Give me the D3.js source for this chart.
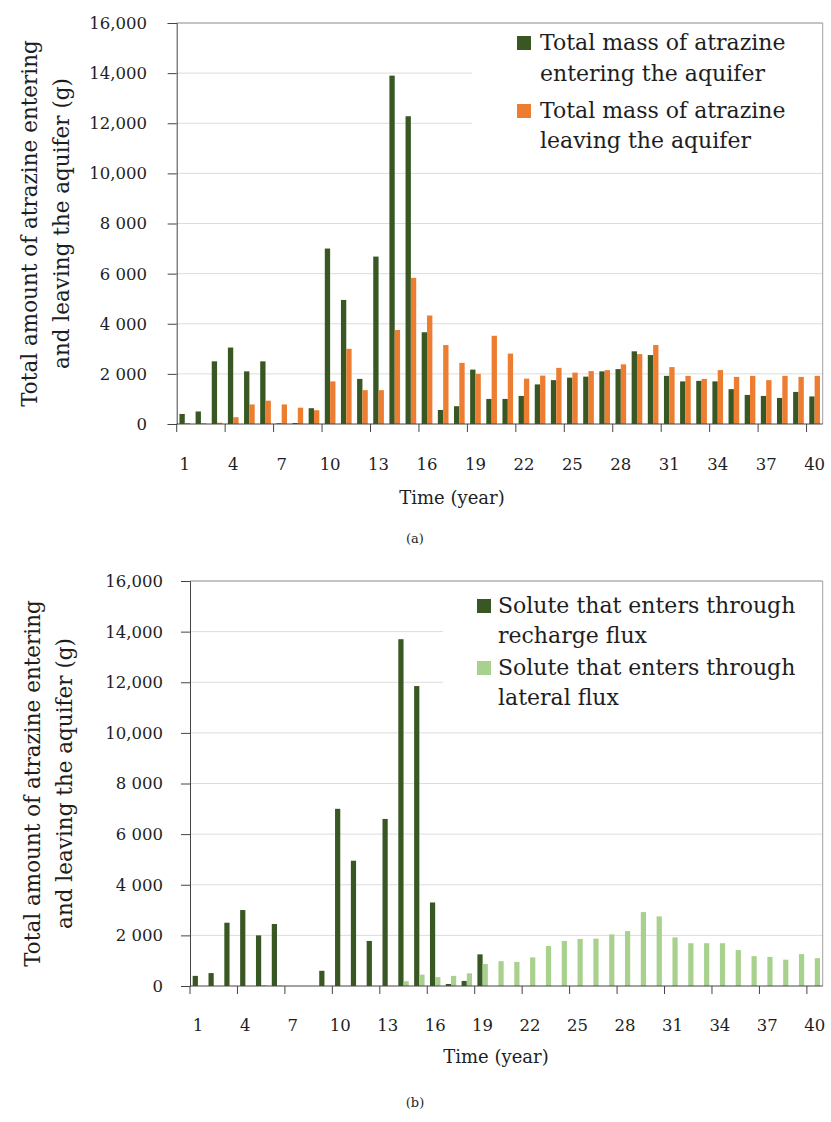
<!DOCTYPE html>
<html>
<head>
<meta charset="utf-8">
<script src="https://cdn.jsdelivr.net/npm/d3@7"></script>
<style>
  html, body { margin: 0; padding: 0; background: #fff; }
  svg { display: block; }
  text { font-family: "DejaVu Serif", "Liberation Serif", serif; fill: #1e1e1e; }
</style>
</head>
<body>
<svg id="chart" width="831" height="1122"></svg>
<script>
// ---------- DATA ----------
const years = [1,2,3,4,5,6,7,8,9,10,11,12,13,14,15,16,17,18,19,20,21,22,23,24,25,26,27,28,29,30,31,32,33,34,35,36,37,38,39,40];
const xTickYears = [1,4,7,10,13,16,19,22,25,28,31,34,37,40];
const yTickValues = [0,2000,4000,6000,8000,10000,12000,14000,16000];
const yTickLabels = ["0","2 000","4 000","6 000","8 000","10,000","12,000","14,000","16,000"];

// Panel (a)
const enteringA = [400,500,2500,3050,2100,2500,30,40,630,7000,4950,1800,6680,13900,12280,3660,560,710,2170,1000,1000,1120,1580,1750,1850,1890,2100,2190,2900,2750,1920,1700,1720,1700,1390,1160,1120,1040,1280,1100];
const leavingA  = [40,30,50,270,780,930,780,650,550,1700,3000,1350,1350,3750,5830,4330,3150,2440,2000,3520,2810,1810,1930,2240,2050,2110,2150,2380,2790,3150,2270,1920,1800,2150,1880,1920,1750,1920,1880,1920];

// Panel (b)
const rechargeB = [400,510,2500,3000,2000,2450,0,0,600,7000,4950,1780,6600,13700,11850,3300,80,200,1250,0,0,0,0,0,0,0,0,0,0,0,0,0,0,0,0,0,0,0,0,0];
const lateralB  = [0,0,0,0,40,20,0,0,0,0,0,0,0,190,450,350,400,500,870,980,950,1130,1580,1780,1860,1870,2040,2170,2920,2750,1920,1690,1690,1690,1420,1180,1150,1040,1260,1100];

const yTitle1 = "Total amount of atrazine entering";
const yTitle2 = "and leaving the aquifer (g)";
const xTitle = "Time (year)";

const panels = [
  {
    series: [
      {name: "Total mass of atrazine|entering the aquifer", values: enteringA, color: "#385723"},
      {name: "Total mass of atrazine|leaving the aquifer", values: leavingA, color: "#ED7D31"}
    ],
    left: 176.7, right: 822.7, top: 23, bottom: 424,
    yLabelX: 147, yTitleX: [37, 69],
    xLabelY: 470, xTitleX: 452, xTitleY: 504, capY: 543, cap: "(a)",
    legend: {x0: 472, y1: 166, sqX: 517, textX: 540, baselines: [50, 81, 118, 148]}
  },
  {
    series: [
      {name: "Solute that enters through|recharge flux", values: rechargeB, color: "#385723"},
      {name: "Solute that enters through|lateral flux", values: lateralB, color: "#A9D18E"}
    ],
    left: 190, right: 822.7, top: 581, bottom: 986,
    yLabelX: 163, yTitleX: [40, 72],
    xLabelY: 1031, xTitleX: 496, xTitleY: 1063, capY: 1107, cap: "(b)",
    legend: {x0: 443, y1: 724, sqX: 477, textX: 498, baselines: [613, 643, 675, 705]}
  }
];

const svg = d3.select("#chart");
svg.append("rect").attr("width", 831).attr("height", 1122).attr("fill", "#fff");

panels.forEach(p => {
  const g = svg.append("g");
  const x0 = d3.scaleBand().domain(years).range([p.left, p.right]).padding(0);
  const bw = x0.bandwidth();
  const x1 = d3.scaleBand().domain(d3.range(p.series.length)).range([bw * 0.17, bw * 0.83]).padding(0);
  const y = d3.scaleLinear().domain([0, 16000]).range([p.bottom, p.top]);

  // gridlines
  g.append("g").selectAll("line").data(yTickValues.filter(v => v > 0 && v < 16000)).join("line")
    .attr("x1", p.left).attr("x2", p.right)
    .attr("y1", d => y(d)).attr("y2", d => y(d))
    .attr("stroke", "#dcdcdc").attr("stroke-width", 1);

  // plot border (top & right)
  g.append("line").attr("x1", p.left).attr("x2", p.right).attr("y1", y(16000)).attr("y2", y(16000))
    .attr("stroke", "#8a8a8a").attr("stroke-width", 1);
  g.append("line").attr("x1", p.right).attr("x2", p.right).attr("y1", y(16000)).attr("y2", y(0))
    .attr("stroke", "#a0a0a0").attr("stroke-width", 1);

  // legend background (covers gridlines)
  g.append("rect").attr("x", p.legend.x0).attr("y", p.top + 1)
    .attr("width", p.right - p.legend.x0 - 1).attr("height", p.legend.y1 - p.top - 1)
    .attr("fill", "#fff");

  // bars
  p.series.forEach((s, si) => {
    g.append("g").selectAll("rect").data(years).join("rect")
      .attr("x", (d) => x0(d) + x1(si))
      .attr("width", x1.bandwidth())
      .attr("y", (d, i) => y(s.values[i]))
      .attr("height", (d, i) => y(0) - y(s.values[i]))
      .attr("fill", s.color);
  });

  // y axis
  const yAxis = d3.axisLeft(y).tickValues(yTickValues).tickSize(9).tickFormat(() => "");
  const ya = g.append("g").attr("transform", `translate(${p.left},0)`).call(yAxis);
  ya.select(".domain").attr("stroke", "#444");
  ya.selectAll(".tick line").attr("stroke", "#444");

  g.append("g").selectAll("text").data(yTickValues).join("text")
    .attr("x", p.yLabelX).attr("y", d => y(d)).attr("dy", "0.36em")
    .attr("text-anchor", "end").attr("font-size", 16.5)
    .text((d, i) => yTickLabels[i]);

  // x axis
  g.append("line").attr("x1", p.left).attr("x2", p.right).attr("y1", y(0)).attr("y2", y(0))
    .attr("stroke", "#444");
  const boundaries = d3.range(0, 40, 3);
  g.append("g").selectAll("line").data(boundaries).join("line")
    .attr("x1", d => x0(years[d])).attr("x2", d => x0(years[d]))
    .attr("y1", y(0)).attr("y2", y(0) + 8)
    .attr("stroke", "#444");

  g.append("g").selectAll("text").data(xTickYears).join("text")
    .attr("x", d => x0(d) + bw / 2).attr("y", p.xLabelY)
    .attr("text-anchor", "middle").attr("font-size", 16.5)
    .text(d => d);

  // axis titles
  g.append("text").attr("x", p.xTitleX).attr("y", p.xTitleY)
    .attr("text-anchor", "middle").attr("font-size", 18).text(xTitle);
  const cy = (p.top + p.bottom) / 2;
  [yTitle1, yTitle2].forEach((t, i) => {
    g.append("text").attr("transform", `translate(${p.yTitleX[i]},${cy}) rotate(-90)`)
      .attr("text-anchor", "middle").attr("font-size", 21.5).text(t);
  });

  // caption
  g.append("text").attr("x", 415).attr("y", p.capY).attr("text-anchor", "middle")
    .attr("font-size", 13).text(p.cap);

  // legend
  p.series.forEach((s, si) => {
    const lines = s.name.split("|");
    const b1 = p.legend.baselines[si * 2], b2 = p.legend.baselines[si * 2 + 1];
    g.append("rect").attr("x", p.legend.sqX).attr("y", b1 - 14).attr("width", 14).attr("height", 14)
      .attr("fill", s.color);
    g.append("text").attr("x", p.legend.textX).attr("y", b1).attr("font-size", 22).text(lines[0]);
    g.append("text").attr("x", p.legend.textX).attr("y", b2).attr("font-size", 22).text(lines[1]);
  });
});
</script>
</body>
</html>
